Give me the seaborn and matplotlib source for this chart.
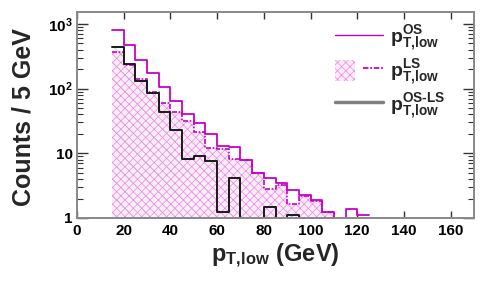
import numpy as np
import pandas as pd
import matplotlib
matplotlib.use("Agg")
import matplotlib.pyplot as plt
import seaborn as sns
from matplotlib.lines import Line2D
from matplotlib.patches import Patch
from matplotlib.legend_handler import HandlerTuple

# ---- data (counts per 5 GeV bin) ----
bin_edges = [15, 20, 25, 30, 35, 40, 45, 50, 55, 60, 65, 70, 75, 80, 85, 90,
             95, 100, 105, 110, 115, 120, 125]
os_counts = [797, 475, 280, 172, 105, 65, 40, 29.3, 20, 13, 12.5, 8.0, 5.0,
             4.2, 3.5, 2.7, 2.3, 1.9, 1.25, 0, 1.36, 1.11]
ls_counts = [371, 235, 141, 88, 61, 43, 31.4, 21, 12, 11.7, 8.3, 8.0, 5.0,
             2.8, 3.2, 1.62, 2.2, 1.83, 1.24, 0, 0, 0]
osls_counts = [443, 240, 133, 85, 44, 22.6, 8.3, 9.0, 7.6, 1.25, 4.2, 0, 0,
               1.46, 0, 1.1, 0, 0, 0, 0, 0, 0]
x_ticks = [0, 20, 40, 60, 80, 100, 120, 140, 160]
y_ticks = [1, 10, 100, 1000]
y_tick_labels = ["1", "10", r"$10^{2}$", r"$10^{3}$"]
labels = [r"$p^{OS}_{T,\!low}$", r"$p^{LS}_{T,\!low}$", r"$p^{OS\text{-}LS}_{T,\!low}$"]

sns.set_style("ticks")
plt.rcParams["font.family"] = ["Liberation Sans", "DejaVu Sans"]
plt.rcParams["font.weight"] = "bold"
plt.rcParams["mathtext.fontset"] = "custom"
plt.rcParams["mathtext.rm"] = "Liberation Sans:bold"
plt.rcParams["mathtext.it"] = "Liberation Sans:bold"
plt.rcParams["mathtext.bf"] = "Liberation Sans:bold"
plt.rcParams["mathtext.default"] = "regular"
plt.rcParams["hatch.linewidth"] = 0.5

MAG = "#c800c8"
LSFILL = "#fcecfa"
LSHATCH = "#e88ae2"

edges = [float(e) for e in bin_edges]
centers = [(a + b) / 2 for a, b in zip(edges[:-1], edges[1:])]
df = pd.DataFrame({"x": centers, "os": os_counts, "ls": ls_counts, "osls": osls_counts})

fig = plt.figure(figsize=(4.85, 2.81), dpi=100)
ax = fig.add_axes([0.1588, 0.2242, 0.8185, 0.7331])

# LS filled hatched area
sns.histplot(data=df, x="x", weights="ls", bins=edges, element="step", fill=True,
             color=LSHATCH, facecolor=LSFILL, edgecolor=LSHATCH, hatch="xxxx",
             linewidth=0, alpha=1, ax=ax)
# OS-LS faint hatched fill
sns.histplot(data=df, x="x", weights="osls", bins=edges, element="step", fill=True,
             color="#b8b8b8", facecolor=(1, 1, 1, 0), edgecolor="#c4b0c4",
             hatch="\\\\", linewidth=0, alpha=1, ax=ax)
# OS outline
sns.histplot(data=df, x="x", weights="os", bins=edges, element="step", fill=False,
             color=MAG, linewidth=1.3, ax=ax)
# LS dashed outline
sns.histplot(data=df, x="x", weights="ls", bins=edges, element="step", fill=False,
             color=MAG, linewidth=1.2, linestyle=(0, (3, 1, 1, 1)), ax=ax)
# OS-LS outline
sns.histplot(data=df, x="x", weights="osls", bins=edges, element="step", fill=False,
             color="#1a1a1a", linewidth=1.4, ax=ax)

ax.set_yscale("log")
ax.set_xlim(0, 170)
ax.set_ylim(1, 1530)
ax.set_xticks(x_ticks)
ax.set_xticklabels([str(v) for v in x_ticks], fontsize=11, fontweight="bold")
ax.set_yticks(y_ticks)
ax.set_yticklabels(y_tick_labels, fontsize=11, fontweight="bold")
ax.tick_params(axis="both", which="both", direction="in", top=True, right=True,
               colors="#333333", labelcolor="black")
ax.tick_params(axis="y", which="major", length=8, width=1.0, pad=3)
ax.tick_params(axis="y", which="minor", length=4.5, width=0.8)
ax.tick_params(axis="x", which="major", length=5, width=1.0, pad=4)
ax.tick_params(axis="x", which="minor", length=0)
for s in ax.spines.values():
    s.set_color("#888888")
    s.set_linewidth(1.4)

ax.set_xlabel(r"$p_{T,\!low}$ (GeV)", fontsize=17, fontweight="bold")
ax.xaxis.set_label_coords(0.5, -0.115)
ax.set_ylabel("Counts / 5 GeV", fontsize=18, fontweight="bold")
ax.yaxis.set_label_coords(-0.105, 0.49)

handles = [
    Line2D([], [], color=MAG, linewidth=1.0),
    (Patch(facecolor=LSFILL, edgecolor=LSHATCH, hatch="xxxx", linewidth=0),
     Line2D([], [], color=MAG, linewidth=1.3, linestyle=(0, (3, 1, 1, 1)))),
    Line2D([], [], color="#808080", linewidth=2.5),
]
leg = ax.legend(handles, labels, loc="upper left", bbox_to_anchor=(0.62, 1.0),
                frameon=False, fontsize=14, handlelength=2.5, handleheight=1.3,
                handletextpad=0.35, labelspacing=0.2, borderaxespad=0.2,
                handler_map={tuple: HandlerTuple(ndivide=None)})

fig.savefig("out.png", dpi=100)
